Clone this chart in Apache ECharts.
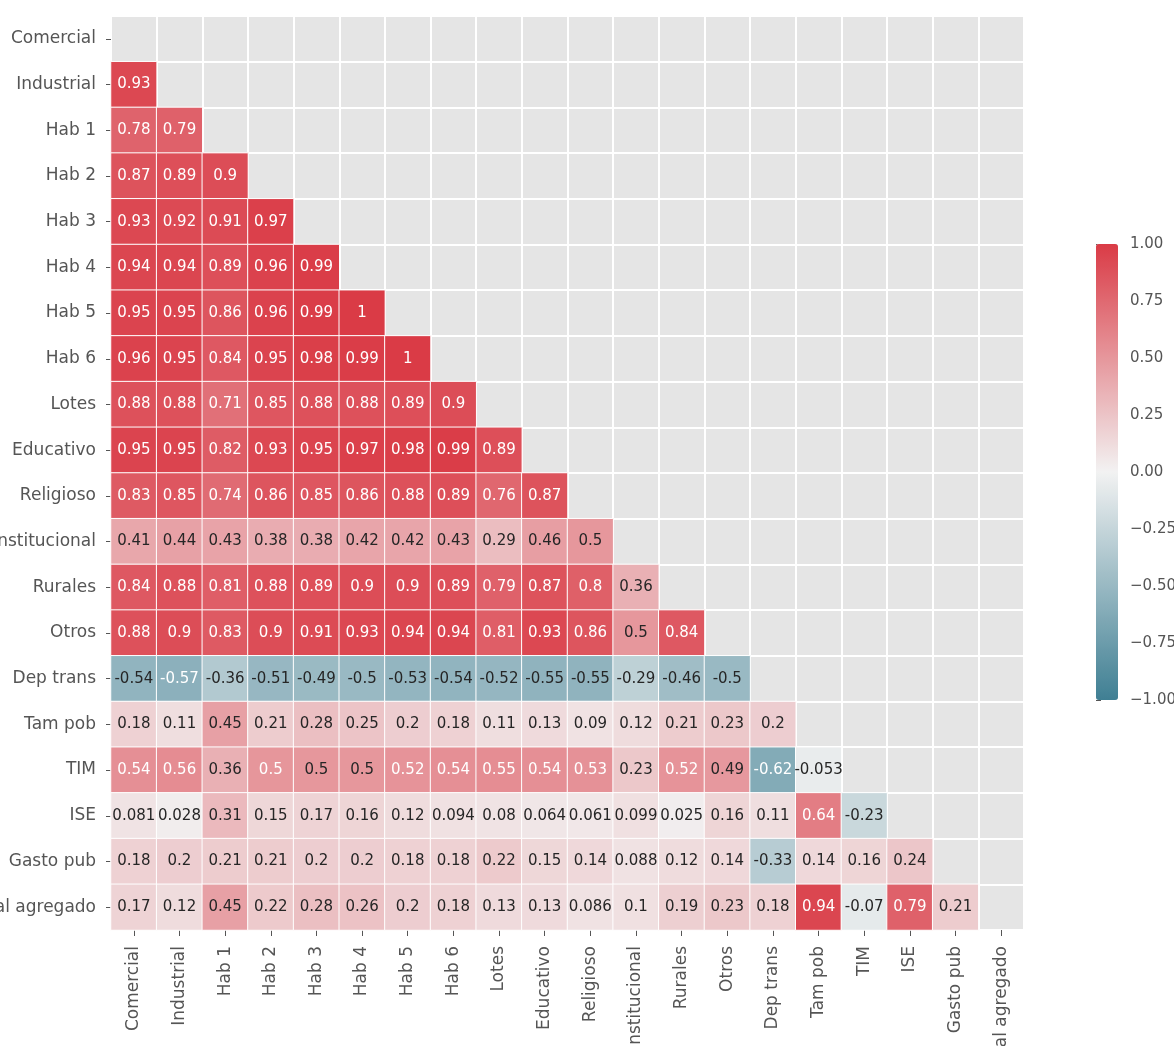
<!DOCTYPE html>
<html>
<head>
<meta charset="utf-8">
<script src="https://cdn.jsdelivr.net/npm/echarts@6/dist/echarts.min.js"></script>
<style>
html, body { margin: 0; padding: 0; background: #fff; }
#chart { width: 1174px; height: 1046px; }
</style>
</head>
<body>
<div id="chart"></div>
<script>
var labels = ['Comercial', 'Industrial', 'Hab 1', 'Hab 2', 'Hab 3', 'Hab 4', 'Hab 5', 'Hab 6',
    'Lotes', 'Educativo', 'Religioso', 'Institucional', 'Rurales', 'Otros', 'Dep trans',
    'Tam pob', 'TIM', 'ISE', 'Gasto pub', 'Total agregado'];

// lower triangle of the correlation matrix, row i holds columns 0..i-1
var rows = [
    [],
    [0.93],
    [0.78, 0.79],
    [0.87, 0.89, 0.9],
    [0.93, 0.92, 0.91, 0.97],
    [0.94, 0.94, 0.89, 0.96, 0.99],
    [0.95, 0.95, 0.86, 0.96, 0.99, 1],
    [0.96, 0.95, 0.84, 0.95, 0.98, 0.99, 1],
    [0.88, 0.88, 0.71, 0.85, 0.88, 0.88, 0.89, 0.9],
    [0.95, 0.95, 0.82, 0.93, 0.95, 0.97, 0.98, 0.99, 0.89],
    [0.83, 0.85, 0.74, 0.86, 0.85, 0.86, 0.88, 0.89, 0.76, 0.87],
    [0.41, 0.44, 0.43, 0.38, 0.38, 0.42, 0.42, 0.43, 0.29, 0.46, 0.5],
    [0.84, 0.88, 0.81, 0.88, 0.89, 0.9, 0.9, 0.89, 0.79, 0.87, 0.8, 0.36],
    [0.88, 0.9, 0.83, 0.9, 0.91, 0.93, 0.94, 0.94, 0.81, 0.93, 0.86, 0.5, 0.84],
    [-0.54, -0.57, -0.36, -0.51, -0.49, -0.5, -0.53, -0.54, -0.52, -0.55, -0.55, -0.29, -0.46, -0.5],
    [0.18, 0.11, 0.45, 0.21, 0.28, 0.25, 0.2, 0.18, 0.11, 0.13, 0.09, 0.12, 0.21, 0.23, 0.2],
    [0.54, 0.56, 0.36, 0.504, 0.498, 0.5, 0.52, 0.54, 0.55, 0.54, 0.53, 0.23, 0.52, 0.49, -0.62, -0.053],
    [0.081, 0.028, 0.31, 0.15, 0.17, 0.16, 0.12, 0.094, 0.08, 0.064, 0.061, 0.099, 0.025, 0.16, 0.11, 0.64, -0.23],
    [0.18, 0.2, 0.21, 0.21, 0.2, 0.2, 0.18, 0.18, 0.22, 0.15, 0.14, 0.088, 0.12, 0.14, -0.33, 0.14, 0.16, 0.24],
    [0.17, 0.12, 0.45, 0.22, 0.28, 0.26, 0.2, 0.18, 0.13, 0.13, 0.086, 0.1, 0.19, 0.23, 0.18, 0.94, -0.07, 0.79, 0.21]
];

var scaleMin = -1;
var scaleMax = 1;
var scaleStep = 0.25;

// annotations like seaborn fmt '.2g'
function fmt(v) {
    return String(parseFloat(v.toPrecision(2)));
}

var cellData = [];
for (var i = 0; i < rows.length; i++) {
    for (var j = 0; j < rows[i].length; j++) {
        var v = rows[i][j];
        var dark = (v > 0.502 || v < -0.56);
        cellData.push({
            value: [j, i, v],
            label: { color: dark ? '#ffffff' : '#262626' }
        });
    }
}

var myChart = echarts.init(document.getElementById('chart'));
var option = {
    backgroundColor: '#ffffff',
    animation: false,
    textStyle: { fontFamily: 'DejaVu Sans' },
    grid: [
        { left: 111, top: 16, width: 913, height: 914, show: true, backgroundColor: '#e5e5e5', borderWidth: 0, outerBoundsMode: 'none' },
        { left: 1096, top: 244, width: 22, height: 456, show: false, outerBoundsMode: 'none' }
    ],
    xAxis: [{
        type: 'category',
        data: labels,
        gridIndex: 0,
        position: 'bottom',
        axisLine: { show: false },
        axisTick: { show: true, alignWithLabel: true, length: 6, lineStyle: { color: '#555555' } },
        axisLabel: { rotate: 90, interval: 0, margin: 16, color: '#555555', fontSize: 17 },
        splitLine: { show: true, interval: 0, lineStyle: { color: '#ffffff', width: 2 } }
    }, {
        type: 'value',
        gridIndex: 1,
        show: false
    }],
    yAxis: [{
        type: 'category',
        data: labels,
        gridIndex: 0,
        inverse: true,
        axisLine: { show: false },
        axisTick: { show: true, alignWithLabel: true, length: 5, lineStyle: { color: '#555555' } },
        axisLabel: { interval: 0, margin: 15, color: '#555555', fontSize: 17 },
        splitLine: { show: true, interval: 0, lineStyle: { color: '#ffffff', width: 2 } }
    }, {
        type: 'value',
        gridIndex: 1,
        position: 'right',
        min: scaleMin,
        max: scaleMax,
        interval: scaleStep,
        axisLine: { show: false },
        axisTick: { show: true, length: 5, lineStyle: { color: '#555555' } },
        axisLabel: {
            margin: 12,
            color: '#555555',
            fontSize: 15,
            formatter: function (v) {
                return (v < 0 ? '\u2212' : '') + Math.abs(v).toFixed(2);
            }
        },
        splitLine: { show: false }
    }],
    visualMap: {
        type: 'continuous',
        seriesIndex: 0,
        min: scaleMin,
        max: scaleMax,
        calculable: false,
        hoverLink: false,
        orient: 'vertical',
        left: 1096,
        top: 244,
        padding: 0,
        itemWidth: 22,
        itemHeight: 456,
        text: null,
        inRange: { color: ['#3f7f93', '#f2f2f2', '#da3b46'] }
    },
    series: [{
        type: 'heatmap',
        xAxisIndex: 0,
        yAxisIndex: 0,
        data: cellData,
        label: {
            show: true,
            fontSize: 15,
            fontFamily: 'DejaVu Sans',
            formatter: function (p) { return fmt(p.value[2]); }
        },
        itemStyle: { borderColor: '#ffffff', borderWidth: 1 },
        emphasis: { disabled: true }
    }, {
        type: 'line',
        xAxisIndex: 1,
        yAxisIndex: 1,
        data: [],
        silent: true
    }]
};
myChart.setOption(option);
</script>
</body>
</html>
